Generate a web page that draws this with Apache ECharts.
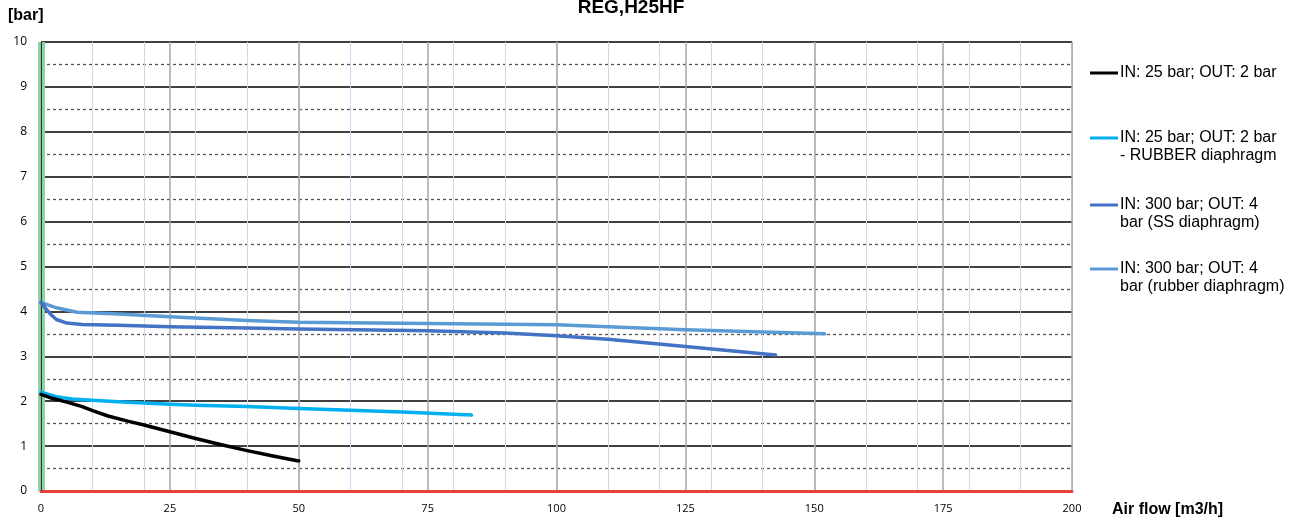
<!DOCTYPE html>
<html>
<head>
<meta charset="utf-8">
<script src="https://cdn.jsdelivr.net/npm/echarts@6/dist/echarts.min.js"></script>
<style>html,body{margin:0;padding:0;background:#fff}#c{width:1304px;height:524px}</style>
</head>
<body>
<div id="c"></div>
<script>
const titleText = 'REG,H25HF';
const yAxisName = '[bar]';
const xAxisName = 'Air flow [m3/h]';

const seriesNames = [
  'IN: 25 bar; OUT: 2 bar',
  'IN: 25 bar; OUT: 2 bar - RUBBER diaphragm',
  'IN: 300 bar; OUT: 4 bar (SS diaphragm)',
  'IN: 300 bar; OUT: 4 bar (rubber diaphragm)'
];
const legendLine1 = ['IN: 25 bar; OUT: 2 bar', 'IN: 25 bar; OUT: 2 bar', 'IN: 300 bar; OUT: 4', 'IN: 300 bar; OUT: 4'];
const legendLine2 = ['', '- RUBBER diaphragm', 'bar (SS diaphragm)', 'bar (rubber diaphragm)'];

const flowA = [0, 2, 5, 8, 10, 13, 17, 20, 25, 30, 35, 40, 45, 50];
const pressA = [2.15, 2.07, 1.98, 1.88, 1.79, 1.67, 1.55, 1.47, 1.32, 1.17, 1.03, 0.90, 0.78, 0.67];

const flowB = [0, 3, 6, 10, 15, 20, 25, 30, 40, 50, 60, 70, 83.5];
const pressB = [2.2, 2.1, 2.05, 2.02, 1.99, 1.96, 1.93, 1.91, 1.88, 1.84, 1.80, 1.76, 1.69];

const flowC = [0, 1, 2, 3, 5, 8, 15, 25, 40, 50, 75, 90, 100, 110, 125, 142.5];
const pressC = [4.2, 4.05, 3.92, 3.82, 3.74, 3.71, 3.69, 3.66, 3.63, 3.61, 3.57, 3.52, 3.46, 3.38, 3.22, 3.03];

const flowD = [0, 3, 7, 15, 25, 40, 50, 75, 100, 125, 152];
const pressD = [4.2, 4.08, 3.98, 3.94, 3.88, 3.80, 3.76, 3.73, 3.70, 3.59, 3.50];

const xTicksMajor = 25;
const xTicksMinor = 10;

const colors = ['#000000', '#00B0F0', '#4472C4', '#5B9BD5'];
const widths = [3.5, 3.5, 3.5, 3.5];

function pairs(xs, ys) { return xs.map((x, i) => [x, ys[i]]); }
const datasets = [pairs(flowA, pressA), pairs(flowB, pressB), pairs(flowC, pressC), pairs(flowD, pressD)];

const legendTops = [72, 137, 204, 268];
const FONT = 'Liberation Sans, Arial, sans-serif';

const chart = echarts.init(document.getElementById('c'), null, {renderer: 'canvas'});
const option = {
  backgroundColor: '#ffffff',
  animation: false,
  legend: seriesNames.map((n, i) => ({
    data: [n], orient: 'vertical', left: 1090, top: legendTops[i] - 7, padding: 0,
    icon: 'rect', itemWidth: 28, itemHeight: 3, itemGap: 2,
    formatter: () => legendLine1[i],
    textStyle: {fontFamily: FONT, fontSize: 16, color: '#000', padding: [0, 0, 0, -3]}
  })),
  graphic: legendLine2.map((t, i) => ({
    type: 'text', x: 1120, y: legendTops[i] + 19,
    style: {text: t, font: '16px ' + FONT, fill: '#000', verticalAlign: 'middle'}
  })).concat([
    {type: 'text', x: 631, y: 8, style: {text: titleText, font: 'bold 19px ' + FONT, fill: '#000', align: 'center', verticalAlign: 'middle'}},
    {type: 'text', x: 8, y: 16, style: {text: yAxisName, font: 'bold 16px ' + FONT, fill: '#000', verticalAlign: 'middle'}},
    {type: 'text', x: 1112, y: 510, style: {text: xAxisName, font: 'bold 16px ' + FONT, fill: '#000', verticalAlign: 'middle'}}
  ]),
  grid: {left: 41, right: 232, top: 42, bottom: 33, containLabel: false},
  xAxis: [
    {
      type: 'value', min: 0, max: 200, interval: xTicksMajor, z: 2,
      axisLine: {show: true, onZero: false, lineStyle: {color: '#E8413C', width: 3}},
      axisTick: {show: false},
      axisLabel: {fontFamily: 'Open Sans, sans-serif', fontSize: 11, color: '#000', margin: 12},
      splitLine: {show: true, lineStyle: {color: '#A6A6A6', width: 1.5}}
    },
    {
      type: 'value', min: 0, max: 200, interval: xTicksMinor, z: 0,
      axisLine: {show: false}, axisTick: {show: false}, axisLabel: {show: false},
      splitLine: {show: true, lineStyle: {color: '#C9DAF3', width: 1}}
    }
  ],
  yAxis: {
    type: 'value', min: 0, max: 10, interval: 1,
    axisLine: {show: true, onZero: false, lineStyle: {color: '#86D6A6', width: 7, cap: 'butt'}},
    axisTick: {show: false},
    axisLabel: {fontFamily: 'Open Sans, sans-serif', fontSize: 12, color: '#000', margin: 14},
    splitLine: {show: true, lineStyle: {color: '#000', width: 1.5}},
    minorTick: {show: false, splitNumber: 2},
    minorSplitLine: {show: true, lineStyle: {color: '#555', width: 1.3, type: [3, 3]}}
  },
  series: seriesNames.map((n, i) => ({
    name: n, type: 'line', data: datasets[i], xAxisIndex: 0,
    showSymbol: false, symbol: 'none', smooth: false,
    lineStyle: {color: colors[i], width: widths[i], join: 'round', cap: 'round'}, itemStyle: {color: colors[i]},
    z: 10 - i,
    markLine: i === 0 ? {
      silent: true, symbol: 'none', label: {show: false},
      lineStyle: {color: '#333', width: 1, type: 'solid'},
      data: [{xAxis: 0}]
    } : undefined
  }))
};
chart.setOption(option);
</script>
</body>
</html>
